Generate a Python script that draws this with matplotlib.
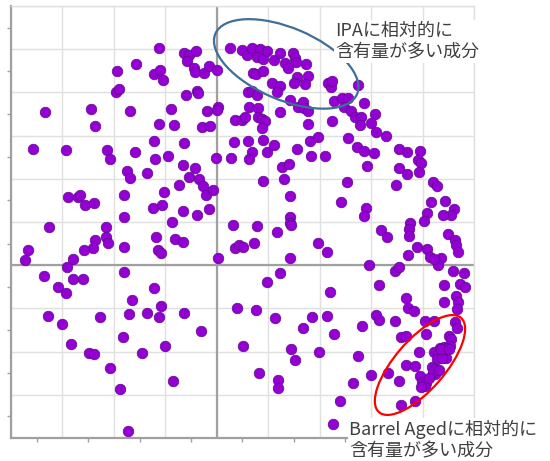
import numpy as np
import matplotlib
matplotlib.use('Agg')
import matplotlib.pyplot as plt
from matplotlib.patches import Ellipse
from matplotlib.ticker import MultipleLocator, NullFormatter
from matplotlib import transforms

plt.rcParams['font.family'] = ['Noto Sans CJK JP', 'DejaVu Sans']

# sample scores on the two components (x = PC1, y = PC2), grouped by area of the map
left_pts = np.array([
    (-1.94, 4.50), (-1.96, 4.01), (-1.91, 4.08), (-3.34, 3.55), (-2.45, 3.62),
    (-2.37, 3.22), (-3.58, 2.69), (-2.94, 2.67), (-2.14, 2.67), (-2.08, 2.46),
    (-1.75, 2.18), (-1.69, 2.02), (-2.90, 1.58), (-2.70, 1.58), (-2.66, 1.63),
    (-2.57, 1.39), (-2.39, 1.44), (-1.81, 1.63), (-1.81, 1.12), (-3.27, 0.88),
    (-2.16, 0.88), (-2.16, 0.65), (-2.12, 0.51), (-2.37, 0.58), (-2.41, 0.40),
    (-2.59, 0.35), (-3.67, 0.35), (-3.73, 0.12), (-2.80, 0.14), (-2.92, -0.04),
    (-1.81, 0.42), (-1.81, -0.16), (-3.36, -0.25), (-2.80, -0.32), (-2.60, -0.32),
    (-3.09, -0.50), (-2.94, -0.64), (-3.29, -1.18), (-3.01, -1.36), (-2.27, -1.20),
    (-2.84, -1.82), (-2.49, -2.03), (-2.39, -2.06), (-2.08, -2.38), (-1.89, -2.87),
    (-1.71, -1.13), (-1.83, -1.66), (-1.73, -3.84),
])

mid_pts = np.array([
    (-1.13, 5.03), (-1.57, 4.66), (-0.64, 4.91), (-0.54, 4.87), (-0.41, 4.96),
    (-0.58, 4.73), (-1.22, 4.43), (-1.11, 4.52), (-1.05, 4.29), (-0.45, 4.56),
    (-0.43, 4.47), (-0.25, 4.45), (-0.16, 4.61), (0.00, 4.52), (-0.60, 3.94),
    (-0.39, 4.03), (-0.37, 3.99), (-1.69, 3.57), (-0.89, 3.62), (-0.19, 3.57),
    (0.02, 3.66), (0.00, 3.59), (-1.13, 3.27), (-0.84, 3.25), (-0.29, 3.20),
    (-0.14, 3.22), (-1.22, 2.88), (-0.64, 2.83), (-1.59, 2.62), (-1.21, 2.46),
    (-0.95, 2.53), (-0.02, 2.48), (0.27, 2.48), (0.33, 2.85), (0.35, 3.36),
    (0.49, 3.36), (0.25, 5.03), (-1.36, 2.13), (-0.66, 2.32), (-0.43, 2.25),
    (-0.54, 2.04), (-0.35, 2.00), (-0.27, 1.83), (-0.21, 1.63), (-0.08, 1.74),
    (-0.74, 1.86), (-1.03, 1.69), (-1.24, 1.32), (-1.07, 1.39), (-0.66, 1.25),
    (-0.39, 1.16), (-0.16, 1.30), (-0.87, 1.00), (0.31, 0.93), (-1.19, 0.65),
    (-0.82, 0.61), (-0.66, 0.54), (-1.15, 0.35), (-1.09, 0.28), (0.02, 0.17),
    (0.35, 0.40), (0.43, 0.47), (0.51, 0.42), (-1.22, -0.53), (-1.65, -0.81),
    (-1.36, -1.11), (-1.09, -0.94), (-1.13, -1.20), (-0.64, -1.11), (-0.31, -1.52),
    (-1.46, -2.03), (-1.01, -1.87), (0.39, -0.99), (0.51, -1.87), (-0.86, -2.68),
])

ipa_pts = np.array([
    (0.49, 4.98), (0.58, 4.87), (0.68, 5.03), (0.84, 5.00), (0.78, 4.82),
    (0.89, 4.77), (0.97, 4.96), (1.11, 4.75), (1.22, 4.91), (1.32, 4.68),
    (1.38, 4.56), (1.48, 4.91), (1.52, 4.80), (1.54, 4.70), (1.73, 4.66),
    (0.70, 4.45), (0.76, 4.43), (0.89, 4.50), (1.56, 4.36), (1.77, 4.38),
    (1.50, 4.22), (1.71, 4.19), (1.07, 4.22), (1.22, 4.15), (1.17, 4.01),
    (0.60, 4.01), (0.68, 4.03), (0.78, 3.94), (2.16, 4.22), (2.22, 4.13),
    (2.24, 4.26), (1.42, 3.82), (1.57, 3.66), (1.67, 3.78), (1.69, 3.64),
    (1.77, 3.57), (1.22, 3.55), (0.62, 3.66), (0.80, 3.64), (0.80, 3.43),
    (0.87, 3.38), (0.93, 3.34), (0.87, 3.18), (0.54, 3.43), (1.77, 3.27),
    (2.24, 3.34), (2.27, 3.80), (2.43, 3.87), (2.55, 3.87), (2.47, 3.66),
    (2.60, 3.57), (2.68, 3.43), (2.80, 3.43), (2.78, 3.25), (2.74, 4.17),
    (0.60, 2.88), (0.68, 2.62), (0.62, 2.46), (0.89, 2.90), (0.97, 2.62),
    (1.11, 2.78), (1.56, 2.69), (1.81, 2.88), (1.96, 2.97), (1.83, 2.53),
    (2.10, 2.53), (2.55, 2.94), (2.72, 2.74), (1.26, 2.27), (1.40, 2.34),
    (0.89, 1.95), (1.30, 2.00), (1.42, 1.60), (2.53, 1.93), (2.41, 1.46),
    (1.42, 1.12), (1.42, 0.98), (0.78, 0.91),
    (1.17, 0.77), (1.44, 0.93), (0.72, 0.51), (1.42, 0.17), (1.96, 0.51),
    (2.14, 0.31), (1.22, -0.18), (0.97, -0.39), (2.20, -0.62), (0.76, -1.04),
    (1.13, -1.22), (1.85, -1.20), (2.14, -1.18), (1.67, -1.45), (2.27, -1.59),
    (1.44, -1.94), (1.52, -2.19), (1.98, -2.01), (2.74, -2.10), (0.82, -2.50),
    (1.19, -2.66), (1.19, -2.84), (2.64, -2.73), (2.39, -3.14), (2.26, -3.68),
])

barrel_pts = np.array([
    (2.86, 3.75), (3.07, 3.50), (2.99, 3.29), (3.09, 3.08), (3.29, 2.99),
    (2.86, 2.64), (3.05, 2.60), (2.92, 2.30), (3.54, 2.69), (3.69, 2.62),
    (3.95, 2.64), (3.91, 2.44), (3.97, 2.37), (3.93, 2.16), (3.54, 2.25),
    (3.69, 2.11), (3.48, 1.86), (4.20, 1.93), (4.28, 1.83), (4.16, 1.46),
    (4.43, 1.49), (4.61, 1.30), (4.55, 1.16), (4.39, 1.16), (4.08, 1.21),
    (4.02, 1.02), (3.75, 0.98), (2.90, 1.32), (2.86, 1.14),
    (3.73, 0.84), (3.73, 0.68), (3.19, 0.81), (3.30, 0.65), (4.49, 0.72),
    (4.63, 0.58), (4.65, 0.47), (4.69, 0.31), (3.89, 0.42), (4.08, 0.38),
    (4.14, 0.19), (4.35, 0.17), (4.30, 0.00), (4.22, 0.14), (3.71, 0.24),
    (2.95, 0.00), (3.46, -0.13), (3.54, -0.04), (4.59, -0.13), (4.80, -0.18),
    (3.15, -0.46), (4.41, -0.46), (4.72, -0.44), (4.82, -0.50), (3.67, -0.76),
    (3.71, -0.99), (3.83, -1.06), (4.41, -0.85), (4.65, -0.71), (4.69, -0.85),
    (4.67, -1.01), (3.09, -1.15), (3.15, -1.27), (3.46, -1.29), (2.82, -1.41),
    (4.04, -1.29), (4.22, -1.29), (4.63, -1.31), (4.67, -1.45), (3.58, -1.66),
    (3.67, -1.64), (4.06, -1.59), (4.51, -1.64), (4.55, -1.71), (4.53, -1.87),
    (4.34, -1.92), (4.41, -1.89), (4.47, -1.92), (4.22, -2.01), (4.30, -2.06),
    (4.39, -2.03), (4.45, -2.15), (4.28, -2.17), (4.37, -2.15), (4.35, -1.94),
    (4.51, -1.94), (3.93, -2.01), (3.67, -2.31), (3.85, -2.33), (4.18, -2.36),
    (4.24, -2.40), (4.24, -2.52), (4.20, -2.47), (4.32, -2.43), (3.95, -2.57),
    (3.99, -2.71), (4.06, -2.73), (4.04, -2.80), (3.97, -2.82), (4.12, -2.61),
    (3.32, -2.50), (3.54, -2.68), (3.00, -2.54), (3.58, -3.24), (3.85, -3.14),
])

ipa_label = 'IPAに相対的に\n含有量が多い成分'
barrel_label = 'Barrel Agedに相対的に\n含有量が多い成分'

pts = np.vstack([left_pts, mid_pts, ipa_pts, barrel_pts])

fig = plt.figure(figsize=(5.5, 4.61), dpi=100)
ax = fig.add_axes([0.02, 0.0499, 0.8418, 0.937])

ax.scatter(pts[:, 0], pts[:, 1], s=58, facecolor='#9400D3', edgecolor='#5E0A8C',
           linewidth=0.5, zorder=3)

ax.axhline(0, color='#a0a0a0', lw=1.6, zorder=2)
ax.axvline(0, color='#a0a0a0', lw=1.6, zorder=2)


def ring(cx, cy, w, h, angle, color):
    # ellipse sized in inches, centred on a data point
    trans = fig.dpi_scale_trans + transforms.ScaledTranslation(cx, cy, ax.transData)
    ax.add_patch(Ellipse((0, 0), w, h, angle=angle, transform=trans, fill=False,
                         edgecolor=color, lw=1.6, zorder=4, clip_on=False))


ring(1.35, 4.66, 1.54, 0.72, -23, '#3F6E96')
ring(3.95, -2.31, 1.25, 0.50, 49, '#FF0000')

ax.set_xlim(-4, 5)
ax.set_ylim(-4, 6)
ax.xaxis.set_major_locator(MultipleLocator(1))
ax.yaxis.set_major_locator(MultipleLocator(1))
ax.xaxis.set_minor_locator(MultipleLocator(0.5))
ax.yaxis.set_minor_locator(MultipleLocator(0.5))
ax.xaxis.set_major_formatter(NullFormatter())
ax.yaxis.set_major_formatter(NullFormatter())
ax.tick_params(which='major', length=0)
ax.tick_params(which='minor', length=3, direction='out', color='#a0a0a0', width=1)
ax.grid(which='major', color='#e0e0e0', lw=1.0, zorder=0)
ax.set_axisbelow(True)

for side in ['left', 'bottom']:
    ax.spines[side].set_color('#a0a0a0')
    ax.spines[side].set_linewidth(1.6)
for side in ['top', 'right']:
    ax.spines[side].set_color('#e0e0e0')
    ax.spines[side].set_linewidth(1.0)

ax.text(2.30, 5.18, ipa_label, fontsize=13, color='#404040', va='center', ha='left',
        linespacing=1.25, zorder=5, clip_on=False,
        bbox=dict(facecolor='white', edgecolor='none', pad=1))
ax.text(2.57, -4.05, barrel_label, fontsize=13, color='#404040', va='center', ha='left',
        linespacing=1.25, zorder=5, clip_on=False,
        bbox=dict(facecolor='white', edgecolor='none', pad=1))

fig.savefig('out.png', dpi=100)
